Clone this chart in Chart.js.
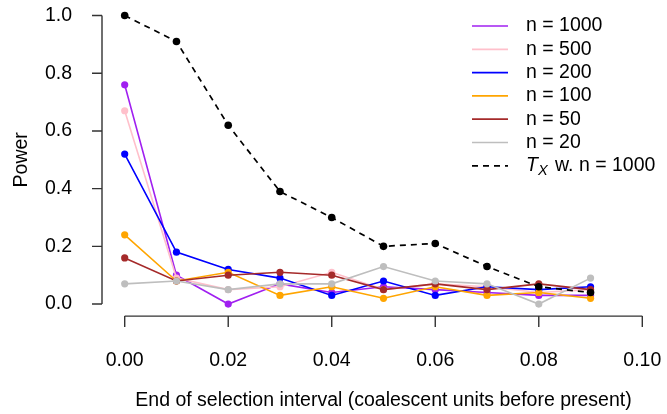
<!DOCTYPE html>
<html>
<head>
<meta charset="utf-8">
<script src="https://cdn.jsdelivr.net/npm/chart.js@4.4.1/dist/chart.umd.min.js"></script>
<style>
  html, body { margin: 0; padding: 0; background: #fff; }
  #wrap { width: 667px; height: 414px; }
</style>
</head>
<body>
<div id="wrap"><canvas id="myChart"></canvas></div>
<script>
// Data
const xValues = [0.00, 0.01, 0.02, 0.03, 0.04, 0.05, 0.06, 0.07, 0.08, 0.09];
const n1000 = [0.76, 0.10, 0.00, 0.07, 0.04, 0.06, 0.05, 0.04, 0.03, 0.03];
const n500  = [0.67, 0.09, 0.05, 0.06, 0.11, 0.05, 0.07, 0.06, 0.04, 0.05];
const n200  = [0.52, 0.18, 0.12, 0.09, 0.03, 0.08, 0.03, 0.06, 0.05, 0.06];
const n100  = [0.24, 0.08, 0.11, 0.03, 0.06, 0.02, 0.06, 0.03, 0.04, 0.02];
const n50   = [0.16, 0.08, 0.10, 0.11, 0.10, 0.05, 0.07, 0.05, 0.07, 0.05];
const n20   = [0.07, 0.08, 0.05, 0.07, 0.07, 0.13, 0.08, 0.07, 0.00, 0.09];
const tx1000 = [1.00, 0.91, 0.62, 0.39, 0.30, 0.20, 0.21, 0.13, 0.06, 0.04];

const xTicks = [0.00, 0.02, 0.04, 0.06, 0.08, 0.10];
const yTicks = [0.0, 0.2, 0.4, 0.6, 0.8, 1.0];

const FONT = '"Liberation Sans", Arial, Helvetica, sans-serif';
const FSIZE = 19.5;

const toPoints = (ys) => ys.map((v, i) => ({ x: xValues[i], y: v }));

const series = [
    { label: 'n = 1000', data: n1000, color: '#A020F0' },
    { label: 'n = 500', data: n500, color: '#FFC0CB' },
    { label: 'n = 200', data: n200, color: '#0000FF' },
    { label: 'n = 100', data: n100, color: '#FFA500' },
    { label: 'n = 50', data: n50, color: '#A52A2A' },
    { label: 'n = 20', data: n20, color: '#BEBEBE' }
];

const datasets = series.map((s, i) => ({
    label: s.label,
    data: toPoints(s.data),
    borderColor: s.color,
    backgroundColor: s.color,
    borderWidth: 1.6,
    pointRadius: 3.6,
    pointBorderWidth: 0,
    tension: 0,
    order: 6 - i
}));
datasets.push({
    label: 'T_X w. n = 1000',
    data: toPoints(tx1000),
    borderColor: '#000',
    backgroundColor: '#000',
    borderWidth: 1.7,
    borderDash: [6, 5],
    pointRadius: 3.8,
    pointBorderWidth: 0,
    tension: 0,
    order: 0
});

// R style axes: line only from first to last tick
const rAxes = {
    id: 'rAxes',
    afterDraw(chart) {
        const { ctx, chartArea, scales } = chart;
        const x = scales.x, y = scales.y;
        ctx.save();
        ctx.strokeStyle = '#333';
        ctx.lineWidth = 1.4;
        ctx.beginPath();
        const yb = chartArea.bottom + 0.5;
        ctx.moveTo(x.getPixelForValue(xTicks[0]), yb);
        ctx.lineTo(x.getPixelForValue(xTicks[xTicks.length - 1]), yb);
        xTicks.forEach((v) => {
            const px = x.getPixelForValue(v);
            ctx.moveTo(px, yb);
            ctx.lineTo(px, yb + 11);
        });
        const xl = chartArea.left - 2;
        ctx.moveTo(xl, y.getPixelForValue(yTicks[0]));
        ctx.lineTo(xl, y.getPixelForValue(yTicks[yTicks.length - 1]));
        yTicks.forEach((v) => {
            const py = y.getPixelForValue(v);
            ctx.moveTo(xl, py);
            ctx.lineTo(xl - 10, py);
        });
        ctx.stroke();
        ctx.restore();
    }
};

// Legend without box, top right
const rLegend = {
    id: 'rLegend',
    afterDraw(chart) {
        const ctx = chart.ctx;
        ctx.save();
        ctx.textBaseline = 'middle';
        chart.data.datasets.forEach((ds, i) => {
            const rowY = 26 + i * 23.3;
            ctx.beginPath();
            ctx.strokeStyle = ds.borderColor;
            ctx.lineWidth = 1.7;
            ctx.setLineDash(ds.borderDash || []);
            ctx.moveTo(472, rowY);
            ctx.lineTo(508, rowY);
            ctx.stroke();
            ctx.setLineDash([]);
            ctx.fillStyle = '#000';
            if (ds.label.startsWith('T_X')) {
                ctx.font = 'italic ' + FSIZE + 'px ' + FONT;
                ctx.fillText('T', 526, rowY);
                let w = ctx.measureText('T').width;
                ctx.font = 'italic ' + (FSIZE * 0.75) + 'px ' + FONT;
                ctx.fillText('X', 526 + w, rowY + 5);
                w += ctx.measureText('X').width + 2;
                ctx.font = FSIZE + 'px ' + FONT;
                ctx.fillText(ds.label.slice(3), 526 + w, rowY);
            } else {
                ctx.font = FSIZE + 'px ' + FONT;
                ctx.fillText(ds.label, 526, rowY);
            }
        });
        ctx.restore();
    }
};

const config = {
    type: 'line',
    data: { datasets: datasets },
    options: {
        responsive: true,
        maintainAspectRatio: false,
        animation: false,
        layout: { padding: { top: 2.4, right: 1, left: 0, bottom: 0 } },
        plugins: {
            legend: { display: false },
            tooltip: { enabled: false }
        },
        scales: {
            x: {
                type: 'linear',
                min: -0.004,
                max: 0.104,
                grid: { display: false },
                border: { display: false },
                afterBuildTicks: (axis) => { axis.ticks = xTicks.map((v) => ({ value: v })); },
                afterFit: (axis) => {
                    axis.height = 98.4;
                    axis.paddingLeft = 0;
                    axis.paddingRight = 0;
                },
                ticks: {
                    padding: 25,
                    color: '#000',
                    font: { family: FONT, size: FSIZE },
                    maxRotation: 0,
                    callback: (v) => Number(v).toFixed(2)
                },
                title: {
                    display: true,
                    text: 'End of selection interval (coalescent units before present)',
                    color: '#000',
                    font: { family: FONT, size: FSIZE },
                    padding: { top: 0, bottom: 2 }
                }
            },
            y: {
                type: 'linear',
                min: -0.04,
                max: 1.04,
                grid: { display: false },
                border: { display: false },
                afterBuildTicks: (axis) => { axis.ticks = yTicks.map((v) => ({ value: v })); },
                afterFit: (axis) => {
                    axis.width = 104;
                    axis.paddingTop = 0;
                    axis.paddingBottom = 0;
                },
                ticks: {
                    padding: 24,
                    color: '#000',
                    font: { family: FONT, size: FSIZE },
                    callback: (v) => Number(v).toFixed(1)
                },
                title: {
                    display: true,
                    text: 'Power',
                    color: '#000',
                    font: { family: FONT, size: FSIZE },
                    padding: { top: 10, bottom: 0 }
                }
            }
        }
    },
    plugins: [rAxes, rLegend]
};

const graph = new Chart(document.getElementById('myChart'), config);
</script>
</body>
</html>
